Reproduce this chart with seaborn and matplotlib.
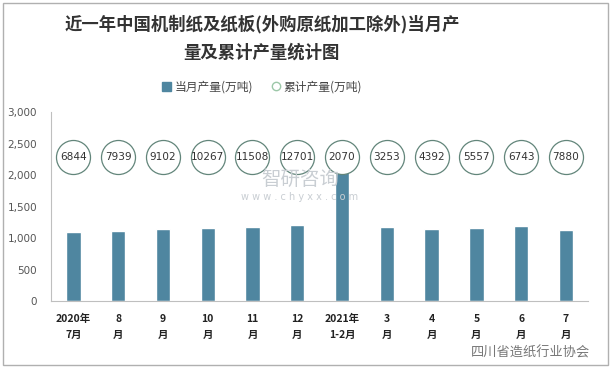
import numpy as np
import matplotlib.pyplot as plt
import seaborn as sns
import pandas as pd
from matplotlib.patches import Rectangle
from matplotlib.lines import Line2D

sns.set_theme(style="white")
plt.rcParams['font.family'] = ['Noto Sans CJK SC', 'DejaVu Sans']
plt.rcParams['axes.unicode_minus'] = False

# data
months = ["2020年\n7月", "8\n月", "9\n月", "10\n月", "11\n月", "12\n月",
          "2021年\n1-2月", "3\n月", "4\n月", "5\n月", "6\n月", "7\n月"]
monthly = [1095, 1111, 1143, 1159, 1175, 1206, 2070, 1183, 1139, 1165, 1186, 1137]
cumulative = [6844, 7939, 9102, 10267, 11508, 12701, 2070, 3253, 4392, 5557, 6743, 7880]
yticks = [0, 500, 1000, 1500, 2000, 2500, 3000]

bar_color = "#4f86a0"
df = pd.DataFrame({"month": months, "monthly": monthly})

fig = plt.figure(figsize=(6.12, 3.69), dpi=100)
ax = fig.add_axes([0.0833, 0.184, 0.878, 0.512])

sns.barplot(data=df, x="month", y="monthly", color=bar_color,
            width=0.32, saturation=1, ax=ax)

# cumulative values shown as labelled circles in a row
row_y = 2290
xs = np.arange(len(months))
ax.scatter(xs, [row_y] * len(xs), s=600, facecolors="white",
           edgecolors="#62857a", linewidths=0.9, zorder=3)
for x, v in zip(xs, cumulative):
    ax.text(x, row_y, str(v), ha="center", va="center", fontsize=7.6,
            color="#333333", zorder=4, family="DejaVu Sans")

ax.set_ylim(0, 3000)
ax.set_xlim(-0.5, len(months) - 0.5)
ax.set_yticks(yticks)
ax.set_yticklabels([f"{t:,}" for t in yticks], fontsize=7.5, color="#555555",
                   family="DejaVu Sans")
ax.set_xticks(xs)
ax.set_xticklabels(months, fontsize=7.5, fontweight="bold", color="#222222",
                   linespacing=1.8)
ax.set_xlabel("")
ax.set_ylabel("")
for s in ["top", "right"]:
    ax.spines[s].set_visible(False)
for s in ["left", "bottom"]:
    ax.spines[s].set_color("#bfbfbf")
    ax.spines[s].set_linewidth(0.8)
ax.tick_params(axis="y", length=0, pad=10)
ax.tick_params(axis="x", length=0, pad=9)
# small ticks between categories
ax.set_xticks(np.arange(-0.5, len(months)), minor=True)
ax.tick_params(axis="x", which="minor", length=3, color="#bfbfbf", width=0.8)

# watermark
fig.text(0.49, 0.515, "智研咨询", fontsize=14, color="#c9ced3", ha="center",
         va="center", zorder=0)
fig.text(0.49, 0.465, "w w w . c h y x x . c o m", fontsize=7, color="#c9ced3",
         ha="center", va="center", family="DejaVu Sans", zorder=0)
fig.text(0.965, 0.045, "四川省造纸行业协会", fontsize=9.5, color="#777777",
         ha="right", va="center")

# title
fig.text(0.428, 0.935, "近一年中国机制纸及纸板(外购原纸加工除外)当月产",
         fontsize=12.5, color="#333333", ha="center", va="center", fontweight="bold")
fig.text(0.428, 0.858, "量及累计产量统计图",
         fontsize=12.5, color="#333333", ha="center", va="center", fontweight="bold")

# legend
handles = [Rectangle((0, 0), 1, 1, color=bar_color),
           Line2D([], [], marker="o", linestyle="", markerfacecolor="white",
                  markeredgecolor="#9cc7a8", markersize=6)]
fig.legend(handles, ["当月产量(万吨)", "累计产量(万吨)"], loc="center",
           bbox_to_anchor=(0.428, 0.764), ncol=2, frameon=False, fontsize=8.5,
           handlelength=0.8, handleheight=0.8, columnspacing=1.5, handletextpad=0.3,
           labelcolor="#444444")

# outer border
fig.patches.append(Rectangle((0.005, 0.012), 0.989, 0.981, transform=fig.transFigure,
                             fill=False, edgecolor="#b0b0b0", linewidth=1))

plt.savefig("out.png", dpi=100)
